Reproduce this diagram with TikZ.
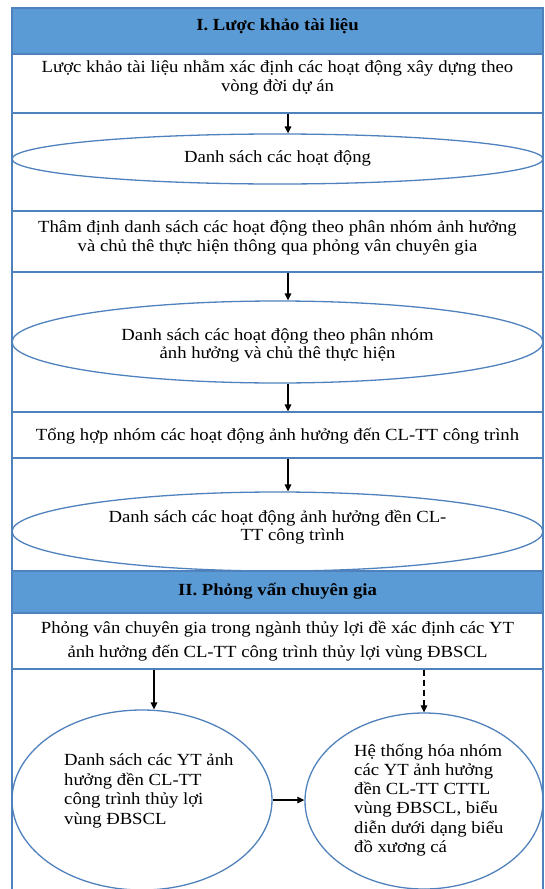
\documentclass[tikz,border=0pt]{standalone}
\usepackage{fontspec}
\setmainfont{Liberation Serif}[FakeStretch=1.1]
\usetikzlibrary{shapes.geometric,arrows.meta}
\definecolor{hdr}{HTML}{5B9BD5}
\definecolor{frm}{HTML}{4F81BD}
\begin{document}
\begin{tikzpicture}[x=1pt,y=-1pt,
  box/.style={rectangle, draw=frm, line width=1.3pt, fill=white, minimum width=531pt, inner sep=0pt},
  hbox/.style={box, fill=hdr},
  ell/.style={ellipse, draw=frm, line width=1.3pt, inner sep=0pt},
  txt/.style={inner sep=0pt, align=center, font=\fontsize{17}{19}\selectfont},
  arr/.style={line width=1.4pt, -{Triangle[length=7pt,width=6.5pt]}},
  dsh/.style={dash pattern=on 6pt off 4pt}
]
\useasboundingbox (0,0) rectangle (545,889);
\draw[frm, line width=1.3pt] (12,889) -- (12,8) -- (543,8) -- (543,889);

% Section I
\node[hbox, minimum height=46pt] (h1) at (277.5,31) {};
\node[txt, font=\fontsize{17}{19}\selectfont\bfseries] (th1) at (277.5,26) {I. Lược khảo tài liệu};
\node[box, minimum height=59pt] (b1) at (277.5,83.5) {};
\node[txt] (t1) at (277.5,78) {Lược khảo tài liệu nhằm xác định các hoạt động xây dựng theo\\vòng đời dự án};
\node[ell, minimum width=531pt, minimum height=50pt] (e1) at (277.5,159) {};
\node[txt] (te1) at (277.5,158) {Danh sách các hoạt động};
\node[box, minimum height=61pt] (b2) at (277.5,241.5) {};
\node[txt] (t2) at (277.5,238) {Thâm định danh sách các hoạt động theo phân nhóm ảnh hưởng\\và chủ thê thực hiện thông qua phỏng vân chuyên gia};
\node[ell, minimum width=531pt, minimum height=82pt] (e2) at (277.5,342) {};
\node[txt, font=\fontsize{17}{17.5}\selectfont] (te2) at (277.5,345.5) {Danh sách các hoạt động theo phân nhóm\\ảnh hưởng và chủ thê thực hiện};
\node[box, minimum height=46pt] (b3) at (277.5,435) {};
\node[txt] (t3) at (277.5,436) {Tổng hợp nhóm các hoạt động ảnh hưởng đến CL-TT công trình};
\node[ell, minimum width=531pt, minimum height=79pt] (e3) at (277.5,531.5) {};
\node[txt, font=\fontsize{17}{17.5}\selectfont] (te3) at (277.5,527) {Danh sách các hoạt động ảnh hưởng đền CL-\\\hspace*{30pt}TT công trình};

% Section II
\node[hbox, minimum height=42pt] (h2) at (277.5,592) {};
\node[txt, font=\fontsize{17}{19}\selectfont\bfseries] (th2) at (277.5,591) {II. Phỏng vấn chuyên gia};
\node[box, minimum height=56pt] (b4) at (277.5,641) {};
\node[txt, font=\fontsize{17}{23.5}\selectfont] (t4) at (277.5,641) {Phỏng vân chuyên gia trong ngành thủy lợi đề xác định các YT\\ảnh hưởng đến CL-TT công trình thủy lợi vùng ĐBSCL};
\node[ell, minimum width=260pt, minimum height=180pt] (L) at (142,800) {};
\node[txt, align=left, anchor=west, font=\fontsize{17}{19.5}\selectfont] (tL) at (64,791) {Danh sách các YT ảnh\\hưởng đền CL-TT\\công trình thủy lợi\\vùng ĐBSCL};
\node[ell, minimum width=238pt, minimum height=176pt] (R) at (424,801) {};
\node[txt, align=left, anchor=west, font=\fontsize{17}{19.3}\selectfont] (tR) at (354,800) {Hệ thống hóa nhóm\\các YT ảnh hưởng\\đền CL-TT CTTL\\vùng ĐBSCL, biểu\\diễn dưới dạng biểu\\đồ xương cá};

% connectors
\coordinate (ax) at (288,0);
\coordinate (axl) at (154,0);
\coordinate (axr) at (424,0);
\draw[arr] (b1.south -| ax) -- (e1.north -| ax);
\draw[arr] (b2.south -| ax) -- (e2.north -| ax);
\draw[arr] (e2.south -| ax) -- (b3.north -| ax);
\draw[arr] (b3.south -| ax) -- (e3.north -| ax);
\draw[arr] (b4.south -| axl) -- (L.north -| axl);
\draw[arr, dsh] (b4.south -| axr) -- (R.north);
\draw[arr] (L.east) -- (L.east -| R.west);
\end{tikzpicture}
\end{document}
